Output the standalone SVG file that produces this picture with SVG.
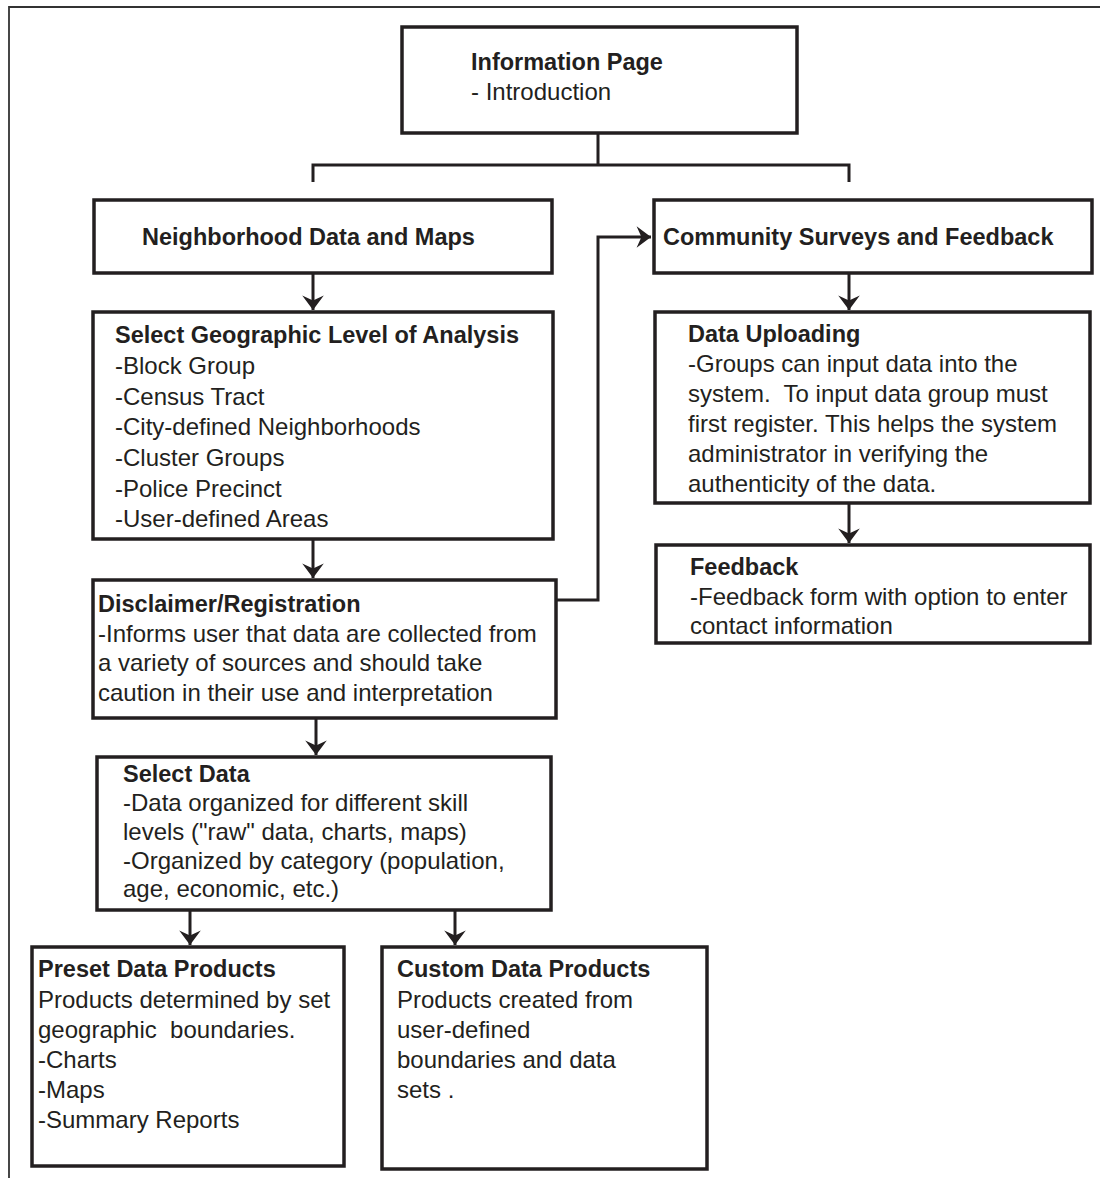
<svg xmlns="http://www.w3.org/2000/svg" width="1100" height="1178" viewBox="0 0 1100 1178">
<style>
  .box { fill: #ffffff; stroke: #231f20; stroke-width: 3.5; }
  .frame { fill: none; stroke: #333333; stroke-width: 1.8; }
  .conn { fill: none; stroke: #231f20; stroke-width: 3; }
  text { font-family: "Liberation Sans", Arial, sans-serif; font-size: 24px; fill: #231f20; }
  .b { font-weight: bold; font-size: 23.5px; }
</style>
<defs>
  <marker id="arr" markerUnits="userSpaceOnUse" markerWidth="24" markerHeight="24" viewBox="-13 -10 15 20" refX="0" refY="0" orient="auto">
    <path d="M0,0 L-12,-9 L-8,0 L-12,9 Z" fill="#231f20"/>
  </marker>
</defs>
<rect width="1100" height="1178" fill="#ffffff"/>
<path class="frame" d="M9,1178 L9,7 L1100,7"/>

<g id="connectors">
  <path class="conn" d="M598,133 L598,165 M313,182 L313,165 L849,165 L849,182"/>
  <path class="conn" d="M313,273 L313,310" marker-end="url(#arr)"/>
  <path class="conn" d="M849,273 L849,310" marker-end="url(#arr)"/>
  <path class="conn" d="M313,539 L313,578" marker-end="url(#arr)"/>
  <path class="conn" d="M849,503 L849,543" marker-end="url(#arr)"/>
  <path class="conn" d="M316,718 L316,755" marker-end="url(#arr)"/>
  <path class="conn" d="M556,600 L598,600 L598,237 L651,237" marker-end="url(#arr)"/>
  <path class="conn" d="M190,910 L190,945" marker-end="url(#arr)"/>
  <path class="conn" d="M455,910 L455,945" marker-end="url(#arr)"/>
</g>

<g id="info-page">
  <rect class="box" x="402" y="27" width="395" height="106"/>
  <text class="b" x="471" y="70">Information Page</text>
  <text x="471" y="100">- Introduction</text>
</g>

<g id="neighborhood">
  <rect class="box" x="94" y="200" width="458" height="73"/>
  <text class="b" x="142" y="245">Neighborhood Data and Maps</text>
</g>

<g id="community">
  <rect class="box" x="654" y="200" width="438" height="73"/>
  <text class="b" x="663" y="245">Community Surveys and Feedback</text>
</g>

<g id="select-geo">
  <rect class="box" x="93" y="312" width="460" height="227"/>
  <text class="b" x="115" y="343">Select Geographic Level of Analysis</text>
  <text x="115" y="374">-Block Group</text>
  <text x="115" y="405">-Census Tract</text>
  <text x="115" y="435">-City-defined Neighborhoods</text>
  <text x="115" y="466">-Cluster Groups</text>
  <text x="115" y="497">-Police Precinct</text>
  <text x="115" y="527">-User-defined Areas</text>
</g>

<g id="data-uploading">
  <rect class="box" x="655" y="312" width="435" height="191"/>
  <text class="b" x="688" y="342">Data Uploading</text>
  <text x="688" y="372">-Groups can input data into the</text>
  <text x="688" y="402" xml:space="preserve">system.  To input data group must</text>
  <text x="688" y="432">first register. This helps the system</text>
  <text x="688" y="462">administrator in verifying the</text>
  <text x="688" y="492">authenticity of the data.</text>
</g>

<g id="feedback">
  <rect class="box" x="656" y="545" width="434" height="98"/>
  <text class="b" x="690" y="575">Feedback</text>
  <text x="690" y="605">-Feedback form with option to enter</text>
  <text x="690" y="634">contact information</text>
</g>

<g id="disclaimer">
  <rect class="box" x="93" y="580" width="463" height="138"/>
  <text class="b" x="98" y="612">Disclaimer/Registration</text>
  <text x="98" y="642">-Informs user that data are collected from</text>
  <text x="98" y="671">a variety of sources and should take</text>
  <text x="98" y="701">caution in their use and interpretation</text>
</g>

<g id="select-data">
  <rect class="box" x="97" y="757" width="454" height="153"/>
  <text class="b" x="123" y="782">Select Data</text>
  <text x="123" y="811">-Data organized for different skill</text>
  <text x="123" y="840">levels ("raw" data, charts, maps)</text>
  <text x="123" y="869">-Organized by category (population,</text>
  <text x="123" y="897">age, economic, etc.)</text>
</g>

<g id="preset">
  <rect class="box" x="32" y="947" width="312" height="219"/>
  <text class="b" x="38" y="977">Preset Data Products</text>
  <text x="38" y="1008">Products determined by set</text>
  <text x="38" y="1038" xml:space="preserve">geographic  boundaries.</text>
  <text x="38" y="1068">-Charts</text>
  <text x="38" y="1098">-Maps</text>
  <text x="38" y="1128">-Summary Reports</text>
</g>

<g id="custom">
  <rect class="box" x="382" y="947" width="325" height="222"/>
  <text class="b" x="397" y="977">Custom Data Products</text>
  <text x="397" y="1008">Products created from</text>
  <text x="397" y="1038">user-defined</text>
  <text x="397" y="1068">boundaries and data</text>
  <text x="397" y="1098">sets .</text>
</g>
</svg>
